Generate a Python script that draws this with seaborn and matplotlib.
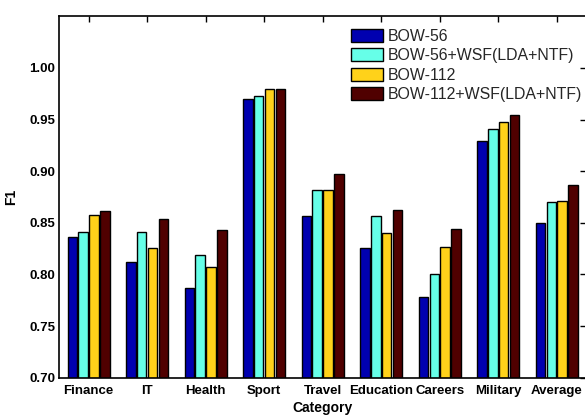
import pandas as pd
import matplotlib
matplotlib.use('Agg')
import matplotlib.pyplot as plt
import seaborn as sns

# Data
categories = ['Finance', 'IT', 'Health', 'Sport', 'Travel', 'Education',
              'Careers', 'Military', 'Average']
methods = ['BOW-56', 'BOW-56+WSF(LDA+NTF)', 'BOW-112', 'BOW-112+WSF(LDA+NTF)']
bow56 = [0.836, 0.812, 0.787, 0.970, 0.857, 0.826, 0.778, 0.929, 0.850]
bow56_wsf = [0.841, 0.841, 0.819, 0.973, 0.882, 0.857, 0.800, 0.941, 0.870]
bow112 = [0.858, 0.826, 0.807, 0.980, 0.882, 0.840, 0.827, 0.948, 0.871]
bow112_wsf = [0.861, 0.854, 0.843, 0.980, 0.897, 0.862, 0.844, 0.954, 0.887]
yticks = [0.70, 0.75, 0.80, 0.85, 0.90, 0.95, 1.00]
colors = ['#0000b0', '#66ffe8', '#ffd21a', '#500000']

df = pd.DataFrame({
    'Category': categories * 4,
    'Method': [m for m in methods for _ in categories],
    'F1': bow56 + bow56_wsf + bow112 + bow112_wsf,
})

sns.set_theme(style='white')
plt.rcParams['font.family'] = ['Liberation Sans', 'DejaVu Sans']

fig = plt.figure(figsize=(5.85, 4.16), dpi=100)
ax = fig.add_axes([0.1014, 0.0921, 0.9003, 0.8687])

sns.barplot(data=df, x='Category', y='F1', hue='Method', hue_order=methods,
            order=categories, palette=colors, saturation=1, edgecolor='black',
            linewidth=1, width=0.74, gap=0.12, ax=ax)

ax.set_ylim(0.70, 1.05)
ax.set_xlim(-0.5, len(categories) - 0.5)
ax.set_yticks(yticks)
ax.set_yticklabels([f'{t:.2f}' for t in yticks])

for s in ax.spines.values():
    s.set_color('black')
    s.set_linewidth(1.2)

ax.tick_params(direction='in', top=True, right=True, length=4, width=1,
               color='black', pad=3)
ax.tick_params(axis='x', pad=5)
for lbl in ax.get_xticklabels() + ax.get_yticklabels():
    lbl.set_fontweight('bold')
    lbl.set_fontsize(9.5)
    lbl.set_color('black')

# keep the x label just inside the bottom edge
ax.set_xlabel('Category', fontsize=10, fontweight='bold', color='black', labelpad=3)
ax.set_ylabel('F1', fontsize=10, fontweight='bold', color='black', labelpad=8)

ax.legend(loc='upper left', bbox_to_anchor=(351 / 585, 1 - 29 / 416),
          bbox_transform=fig.transFigure, frameon=False, fontsize=11.4,
          borderpad=0, borderaxespad=0, handlelength=2.0, handleheight=0.9,
          handletextpad=0.3, labelspacing=0.27)
for h in ax.get_legend().legend_handles:
    h.set_edgecolor('black')
    h.set_linewidth(1)

fig.savefig('out.png', dpi=100)
